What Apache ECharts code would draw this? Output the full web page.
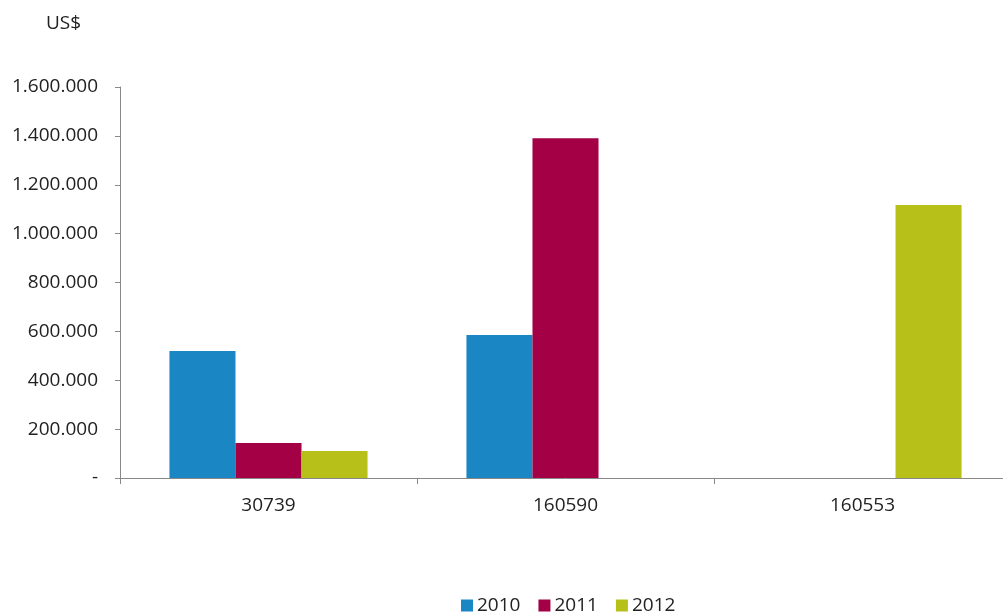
<!DOCTYPE html>
<html>
<head>
<meta charset="utf-8">
<script src="https://cdn.jsdelivr.net/npm/echarts@6/dist/echarts.min.js"></script>
<style>
html,body{margin:0;padding:0;background:#fff;overflow:hidden;}
#chart{width:1011px;height:615px;}
</style>
</head>
<body>
<div id="chart"></div>
<script>
const categories = ['30739', '160590', '160553'];
const years = ['2010', '2011', '2012'];
const values2010 = [520000, 585000, null];
const values2011 = [143000, 1390000, null];
const values2012 = [110000, null, 1117000];
const colors = ['#1a86c4', '#a30046', '#b7c019'];
const yTicks = { min: 0, max: 1600000, interval: 200000 };

const seriesData = [values2010, values2011, values2012];
const font = 'Open Sans';

function fmt(v) {
  if (v === 0) return '-';
  return String(v).replace(/\B(?=(\d{3})+(?!\d))/g, '.');
}

const chart = echarts.init(document.getElementById('chart'));
chart.setOption({
  animation: false,
  color: colors,
  title: {
    text: 'US$',
    left: 41, top: 9,
    textStyle: { fontFamily: font, fontSize: 19, fontWeight: 'normal', color: '#222' }
  },
  grid: { left: 120, top: 87, right: 0, bottom: 137, containLabel: false },
  legend: {
    top: 591, left: 456,
    itemWidth: 12, itemHeight: 12, itemGap: 18,
    icon: 'rect',
    textStyle: { fontFamily: font, fontSize: 19, color: '#222', padding: [0, 0, 0, -1] },
    data: years
  },
  xAxis: {
    type: 'category',
    data: categories,
    axisLine: { lineStyle: { color: '#888' } },
    axisTick: { show: true, length: 6, lineStyle: { color: '#888' } },
    axisLabel: { fontFamily: font, fontSize: 19, color: '#222', margin: 18 }
  },
  yAxis: {
    type: 'value',
    min: yTicks.min, max: yTicks.max, interval: yTicks.interval,
    axisLine: { show: true, lineStyle: { color: '#888' } },
    axisTick: { show: true, length: 5, lineStyle: { color: '#888' } },
    splitLine: { show: false },
    axisLabel: { fontFamily: font, fontSize: 19, color: '#222', margin: 22, formatter: fmt }
  },
  series: years.map((y, i) => ({
    name: y,
    type: 'bar',
    data: seriesData[i],
    barGap: 0,
    barCategoryGap: '33.3%'
  }))
});
</script>
</body>
</html>
